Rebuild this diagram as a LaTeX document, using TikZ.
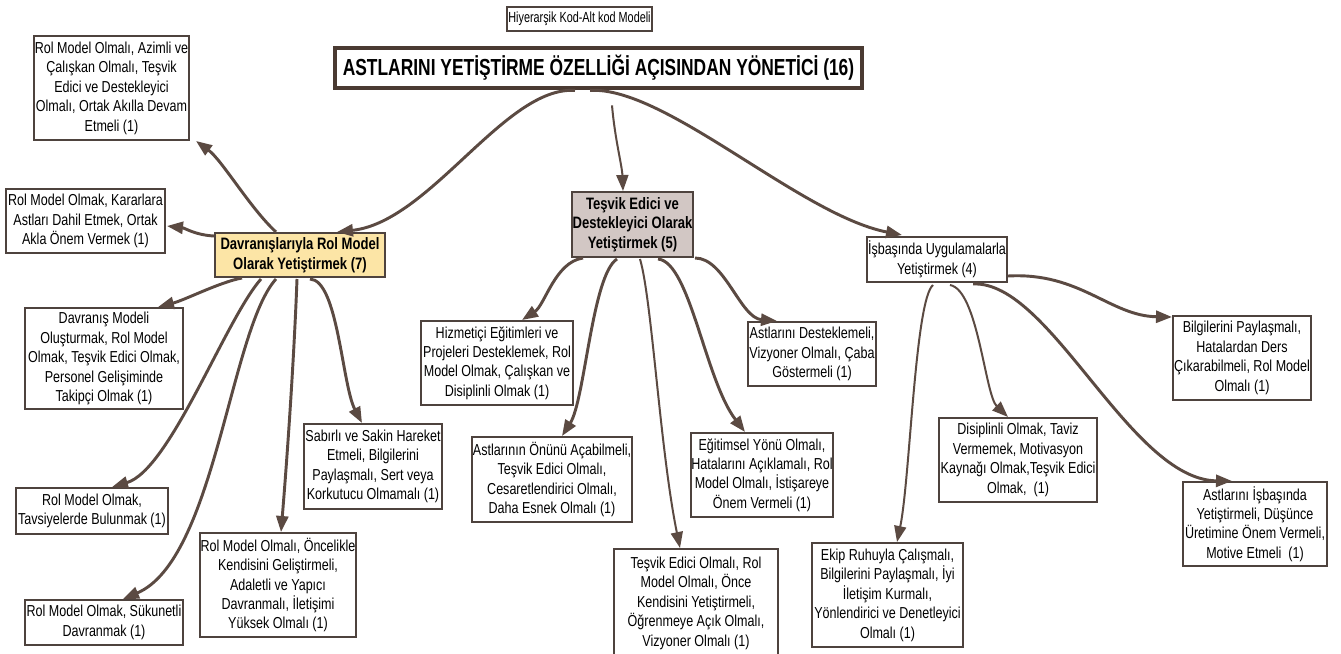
\documentclass[tikz,border=0pt]{standalone}
\usepackage{fontspec}
\setmainfont[FakeStretch=0.79]{Liberation Sans}
\newfontfamily\titlefont[FakeStretch=0.75]{Liberation Sans}
\newfontfamily\headfont[FakeStretch=0.74]{Liberation Sans}
\usetikzlibrary{arrows.meta,calc}

\definecolor{edge}{HTML}{5B4A42}
\definecolor{frame}{HTML}{4E433E}
\definecolor{titleframe}{HTML}{4A3A32}
\definecolor{yellowfill}{HTML}{FCE5A6}
\definecolor{greyfill}{HTML}{D2C7C4}

\begin{document}
\begin{tikzpicture}[x=0.75pt,y=-0.75pt,
  box/.style={draw=frame, line width=1.5pt, fill=white, align=center, inner sep=0pt,
    font=\fontsize{11.9}{14.6}\selectfont},
  sz/.style 2 args={minimum width=#1*0.75pt, minimum height=#2*0.75pt},
  mainbox/.style={box, font=\bfseries\fontsize{12.4}{14.6}\selectfont},
  conn/.style={draw=edge, line width=2.2pt, -{Triangle[length=12pt,width=9pt]}},
  thinconn/.style={conn, line width=1.5pt}]

\useasboundingbox (0,0) rectangle (1341,653);

% header and root
\node[box, line width=0.9pt, sz={145}{24}, font=\headfont\fontsize{11}{12}\selectfont]
  (hdr) at (579.5,19) {Hiyerarşik Kod-Alt kod Modeli};
\node[box, draw=titleframe, line width=3.6pt, sz={527}{40},
  font=\titlefont\bfseries\fontsize{17.4}{20}\selectfont]
  (root) at (598.5,68) {ASTLARINI YETİŞTİRME ÖZELLİĞİ AÇISINDAN YÖNETİCİ (16)};

% first branch: role model
\node[mainbox, fill=yellowfill, sz={170}{44}] (dav) at (300,255)
  {Davranışlarıyla Rol Model\\Olarak Yetiştirmek (7)};
\node[box, sz={155}{104}] (a1) at (111.5,88)
  {Rol Model Olmalı, Azimli ve\\Çalışkan Olmalı, Teşvik\\Edici ve Destekleyici\\Olmalı, Ortak Akılla Devam\\Etmeli (1)};
\node[box, sz={159}{64}] (a2) at (85.5,221)
  {Rol Model Olmak, Kararlara\\Astları Dahil Etmek, Ortak\\Akla Önem Vermek (1)};
\node[box, sz={158}{101}] (a3) at (104,358.5)
  {Davranış Modeli\\Oluşturmak, Rol Model\\Olmak, Teşvik Edici Olmak,\\Personel Gelişiminde\\Takipçi Olmak (1)};
\node[box, sz={152}{46}] (a4) at (92,511)
  {Rol Model Olmak,\\Tavsiyelerde Bulunmak (1)};
\node[box, sz={158}{45}] (a5) at (104,622.5)
  {Rol Model Olmak, Sükunetli\\Davranmak (1)};
\node[box, sz={156}{104}] (a6) at (278,585)
  {Rol Model Olmalı, Öncelikle\\Kendisini Geliştirmeli,\\Adaletli ve Yapıcı\\Davranmalı, İletişimi\\Yüksek Olmalı (1)};
\node[box, sz={138}{85}] (a7) at (373,466.5)
  {Sabırlı ve Sakin Hareket\\Etmeli, Bilgilerini\\Paylaşmalı, Sert veya\\Korkutucu Olmamalı (1)};

% second branch: encouraging and supporting
\node[mainbox, fill=greyfill, sz={121}{65}] (tes) at (632.5,224.5)
  {Teşvik Edici ve\\Destekleyici Olarak\\Yetiştirmek (5)};
\node[box, sz={152}{84}] (b1) at (497,363)
  {Hizmetiçi Eğitimleri ve\\Projeleri Desteklemek, Rol\\Model Olmak, Çalışkan ve\\Disiplinli Olmak (1)};
\node[box, sz={160}{85}] (b2) at (552,479.5)
  {Astlarının Önünü Açabilmeli,\\Teşvik Edici Olmalı,\\Cesaretlendirici Olmalı,\\Daha Esnek Olmalı (1)};
\node[box, sz={164}{108}] (b3) at (696,603)
  {Teşvik Edici Olmalı, Rol\\Model Olmalı, Önce\\Kendisini Yetiştirmeli,\\Öğrenmeye Açık Olmalı,\\Vizyoner Olmalı (1)};
\node[box, sz={140}{84}] (b4) at (762,475)
  {Eğitimsel Yönü Olmalı,\\Hatalarını Açıklamalı, Rol\\Model Olmalı, İstişareye\\Önem Vermeli (1)};
\node[box, sz={128}{64}] (b5) at (812,354)
  {Astlarını Desteklemeli,\\Vizyoner Olmalı, Çaba\\Göstermeli (1)};

% third branch: on-the-job training
\node[box, sz={140}{45}] (isb) at (937,259.5)
  {İşbaşında Uygulamalarla\\Yetiştirmek (4)};
\node[box, sz={138}{84}] (c1) at (1242,358)
  {Bilgilerini Paylaşmalı,\\Hatalardan Ders\\Çıkarabilmeli, Rol Model\\Olmalı (1)};
\node[box, sz={158}{84}] (c2) at (1018,460)
  {Disiplinli Olmak, Taviz\\Vermemek, Motivasyon\\Kaynağı Olmak,Teşvik Edici\\Olmak,~~(1)};
\node[box, sz={144}{84}] (c3) at (1255,524)
  {Astlarını İşbaşında\\Yetiştirmeli, Düşünce\\Üretimine Önem Vermeli,\\Motive Etmeli~~(1)};
\node[box, sz={151}{104}] (c4) at (887.5,595)
  {Ekip Ruhuyla Çalışmalı,\\Bilgilerini Paylaşmalı, İyi\\İletişim Kurmalı,\\Yönlendirici ve Denetleyici\\Olmalı (1)};

% root connectors
\coordinate (rootgap) at ($(root.south)+(13.5,15)$);
\draw[conn] ($(root.south)+(-23.5,0)$) .. controls (505,86) and (430,222) .. ($(dav.north west)+(123,0)$);
\draw[conn] ($(root.south)+(-8.5,0)$) .. controls (665,86) and (800,215) .. ($(isb.north west)+(36,-1)$);
\draw[thinconn] (rootgap) .. controls (615,140) and (622,165) .. ($(tes.north)+(-9.5,0)$);

% role model children
\draw[conn] ($(dav.north west)+(62,0)$) .. controls (250,208) and (222,160) .. ($(a1.south east)+(6,0)$);
\draw[conn] ($(dav.north west)+(0,4)$) .. controls (195,235) and (185,228) .. ($(a2.east)+(1,5)$);
\draw[conn] ($(dav.south west)+(28,0)$) .. controls (220,282) and (185,300) .. ($(a3.north east)+(-26,0)$);
\draw[conn] ($(dav.south west)+(47,1)$) .. controls (225,320) and (170,470) .. ($(a4.north)+(20,0)$);
\draw[conn] ($(dav.south west)+(62,1)$) .. controls (230,330) and (215,560) .. ($(a5.north)+(19,0)$);
\draw[conn] ($(dav.south)+(-3,1)$) .. controls (294,360) and (287,460) .. ($(a6.north)+(3,0)$);
\draw[conn] ($(dav.south)+(10,1)$) .. controls (338,280) and (342,385) .. ($(a7.north)+(-11,0)$);

% encouraging children
\draw[conn] ($(tes.south west)+(12,0)$) .. controls (555,262) and (545,305) .. ($(b1.north)+(25,0)$);
\draw[conn] ($(tes.south)+(-15.5,1)$) .. controls (592,275) and (585,400) .. ($(b2.north)+(10,0)$);
\draw[thinconn] ($(tes.south)+(7.5,1)$) .. controls (652,300) and (660,450) .. ($(b3.north)+(-16,0)$);
\draw[conn] ($(tes.south)+(25.5,1)$) .. controls (690,262) and (705,380) .. ($(b4.north)+(-17,0)$);
\draw[conn] ($(tes.south east)+(1,0)$) .. controls (725,258) and (740,318) .. ($(b5.north west)+(30,0)$);

% on-the-job children
\draw[conn] ($(isb.south east)+(0,-7)$) .. controls (1080,272) and (1110,316) .. ($(c1.north west)+(0,2)$);
\draw[thinconn] ($(isb.south)+(13,2)$) .. controls (978,290) and (985,395) .. ($(c2.north)+(-10,0)$);
\draw[conn] ($(isb.south)+(36,1)$) .. controls (1050,280) and (1130,480) .. ($(c3.north)+(-23,0)$);
\draw[thinconn] ($(isb.south)+(-4,2)$) .. controls (915,300) and (910,480) .. ($(c4.north)+(9.5,0)$);

\end{tikzpicture}
\end{document}
